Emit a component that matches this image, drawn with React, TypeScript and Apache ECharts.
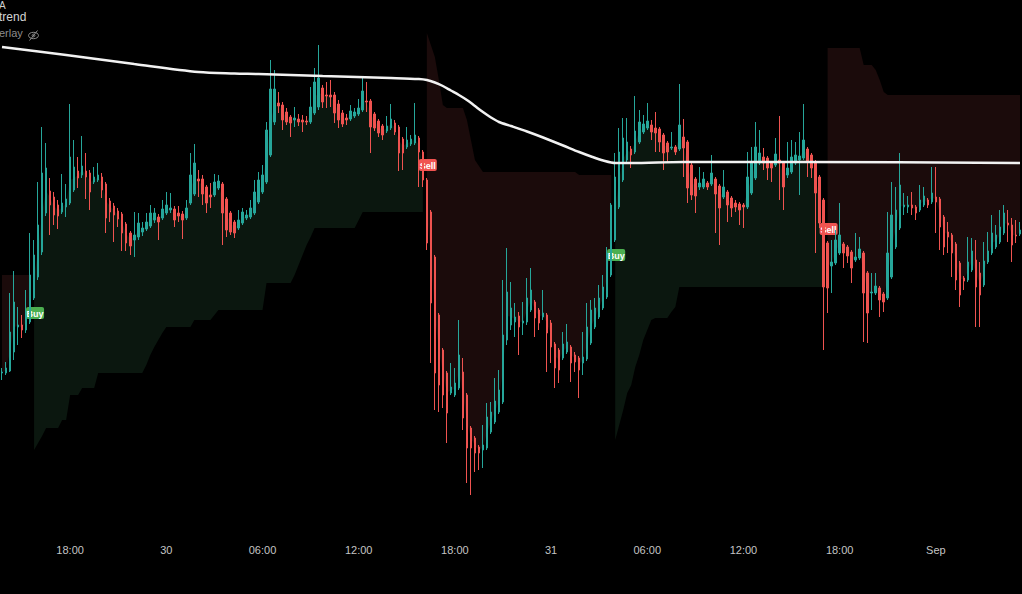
import React, { useEffect, useRef } from "react";
import * as echarts from "echarts";

// ---- time axis (15-minute candles) ----
const startTime = Date.UTC(2023, 7, 29, 13, 45);
const candleCount = 255;
const monthNames = ["Jan", "Feb", "Mar", "Apr", "May", "Jun", "Jul", "Aug", "Sep", "Oct", "Nov", "Dec"];

// ---- candle data (price units) ----
const opens = [
  157,157,159,178,203,205,200,208,232,253,
  278,317,339,333,325,318,323,327,340,359,
  355,359,357,348,350,353,346,329,324,319,
  316,306,297,290,293,298,301,304,310,313,
  312,317,320,321,317,316,312,327,336,351,
  351,343,335,335,342,346,331,317,308,302,
  307,312,313,317,328,338,348,375,408,427,
  425,418,413,410,411,410,409,408,417,423,
  442,435,435,435,426,417,412,411,414,416,
  420,429,429,416,409,404,399,402,407,403,
  391,383,386,387,392,378,350,318,273,215,
  180,157,137,135,142,158,135,102,92,83,
  80,82,98,108,118,128,190,205,208,214,
  207,208,220,228,220,213,215,207,186,180,
  172,178,183,175,172,167,171,187,203,213,
  222,233,255,290,323,350,370,381,378,388,
  398,402,405,402,401,395,387,382,383,381,
  393,388,365,351,343,343,347,346,351,344,
  333,338,332,327,326,325,323,337,352,367,
  373,372,367,365,370,367,355,358,367,370,
  372,381,375,368,353,330,287,264,267,277,
  286,283,278,270,272,277,257,237,237,242,
  236,232,253,283,302,323,323,325,323,320,
  325,330,328,333,331,313,298,295,286,267,
  252,250,260,270,257,245,268,277,283,288,
  297,307,305,295,296,
];
const closes = [
  158,162,198,228,205,200,215,255,275,305,
  357,362,325,315,314,327,331,373,363,352,
  364,353,338,353,355,340,312,318,315,311,
  297,287,284,295,307,302,308,317,317,308,
  321,325,322,310,314,310,322,355,367,349,
  336,327,333,348,349,317,300,298,297,310,
  318,315,322,338,350,355,400,441,441,424,
  410,408,407,412,408,408,408,423,448,452,
  428,434,433,417,410,406,410,419,418,422,
  439,428,403,402,397,395,404,411,398,377,
  377,390,391,395,378,350,287,227,157,145,
  135,117,143,147,175,112,82,82,77,77,
  85,113,118,129,140,195,238,222,213,203,
  209,232,240,212,207,217,197,183,162,160,
  186,188,167,168,160,173,203,220,222,232,
  243,277,325,353,378,392,388,375,399,408,
  406,409,398,397,388,377,378,383,378,405,
  382,342,335,334,347,351,343,357,336,322,
  343,325,322,323,320,323,353,367,383,377,
  367,362,362,376,367,343,362,373,375,374,
  390,368,362,337,307,243,242,268,290,295,
  277,274,262,273,281,237,217,238,244,230,
  228,277,315,320,345,325,325,322,317,330,
  334,325,337,328,303,283,293,277,250,235,
  249,268,279,243,235,269,279,297,295,303,
  317,305,285,294,300,
];
const lows = [
  150,155,158,170,185,192,197,206,230,250,
  275,314,295,305,301,316,313,325,338,342,
  352,331,320,346,348,332,297,308,288,303,
  279,279,275,273,290,294,299,302,307,290,
  310,315,317,303,308,291,310,325,334,333,
  325,317,322,333,340,285,293,295,292,300,
  305,310,311,315,326,336,346,373,405,417,
  400,405,393,403,404,398,405,406,415,420,
  422,422,423,407,402,403,405,409,412,414,
  418,418,377,399,393,390,397,400,395,359,
  360,381,384,385,343,343,280,167,120,118,
  122,87,135,133,140,100,47,35,58,60,
  62,80,96,106,116,126,185,200,193,175,
  195,205,218,193,200,210,158,167,142,147,
  170,176,148,158,132,155,169,185,201,211,
  220,231,253,288,321,348,368,362,376,386,
  396,400,390,378,378,360,368,380,375,379,
  353,327,330,317,340,341,340,344,297,285,
  331,308,313,318,305,302,321,335,350,365,
  360,350,348,363,330,320,352,356,365,335,
  370,353,352,277,302,180,217,237,265,275,
  262,267,247,268,270,188,187,220,235,213,
  218,230,251,281,300,315,317,315,310,318,
  323,322,326,297,280,275,277,253,240,223,
  240,248,258,203,203,243,266,275,281,286,
  295,288,268,287,294,
];
const highs = [
  162,168,237,259,223,215,240,297,290,348,
  403,387,352,338,330,356,346,426,390,373,
  394,377,360,363,367,357,348,332,327,322,
  318,308,299,318,317,308,317,325,322,316,
  330,338,337,324,324,319,330,377,386,360,
  355,345,347,356,355,348,333,319,310,320,
  322,320,330,350,358,365,408,470,460,438,
  428,422,415,423,416,415,414,443,462,485,
  445,448,450,438,430,420,416,425,422,431,
  454,448,431,418,411,406,414,426,410,405,
  393,403,395,427,394,380,352,320,275,217,
  182,159,167,162,210,172,137,104,94,85,
  105,127,128,152,160,250,282,248,227,218,
  228,252,262,230,222,240,217,210,188,182,
  198,206,185,178,174,198,227,230,232,245,
  255,283,327,377,402,412,412,384,434,420,
  415,427,410,418,403,397,389,398,385,446,
  411,390,367,353,363,358,349,375,353,346,
  360,340,334,330,328,327,378,383,408,400,
  382,374,369,392,414,369,388,390,388,398,
  426,383,377,370,355,332,289,290,300,327,
  288,285,280,297,293,279,259,257,257,244,
  238,318,348,343,377,337,334,338,325,345,
  343,332,363,363,333,315,308,297,288,269,
  254,293,292,290,268,288,298,315,305,320,
  325,320,312,310,308,
];

// ---- supertrend line (one value per candle) ----
const trendLine = [
  255,255,255,255,255,255,255,255,80,87,
  94,102,102,102,102,110,110,135,135,135,
  142,142,142,142,157,157,157,157,157,157,
  157,157,157,157,157,157,165,175,183,190,
  197,203,203,203,203,203,203,203,210,210,
  210,210,210,215,220,220,220,220,220,220,
  220,220,220,220,220,220,247,247,247,247,
  247,247,247,255,265,275,285,293,302,302,
  302,302,302,302,302,302,302,302,302,310,
  318,318,318,318,318,318,318,318,318,318,
  318,318,318,318,318,318,497,485,473,450,
  425,422,422,422,422,422,410,390,370,364,
  358,358,358,358,358,358,358,358,358,358,
  358,358,358,358,358,358,358,358,358,358,
  358,358,358,358,355,355,355,355,355,355,
  355,355,355,90,105,120,137,145,163,175,
  190,200,210,212,212,212,212,218,223,243,
  243,243,243,243,243,243,243,243,243,243,
  243,243,243,243,243,243,243,243,243,243,
  243,243,243,243,243,243,243,243,243,243,
  243,243,243,243,243,243,482,482,482,482,
  482,482,482,482,482,465,465,465,460,450,
  438,435,435,435,435,435,435,435,435,435,
  435,435,435,435,435,435,435,435,435,435,
  435,435,435,435,435,435,435,435,435,435,
  435,435,435,435,435,
];
const trendFlips = [8, 106, 153, 206];
const trendStartDir = -1;

// ---- signals ----
const signalIdx = [8, 106, 153, 206];
const signalVal = [217, 365, 275, 301];
const signalText = ["Buy", "Sell", "Buy", "Sell"];

// ---- long moving average ----
const maIdx = [0, 16, 33, 49, 58, 64, 80, 97, 104, 106, 108, 110, 112, 114, 116, 118, 120, 122, 124, 127, 131, 135, 140, 144, 147, 150, 153, 157, 170, 200, 254];
const maVal = [483, 475, 466, 458, 456.5, 456, 454, 452, 451, 450, 447.5, 444, 439.5, 435, 430, 424, 418, 412.5, 408, 404, 398.5, 392.5, 384.5, 378, 373.5, 369.5, 367, 367, 368, 368, 367];

const UP = "#26a69a";
const DOWN = "#ef5350";
const FILL_UP = "#0b170f";
const FILL_DOWN = "#1b0b0b";

function pad(n: number) {
  return n < 10 ? "0" + n : "" + n;
}

export default function App() {
  const ref = useRef<HTMLDivElement>(null);

  useEffect(() => {
    if (!ref.current) return;
    const chart = echarts.init(ref.current, null, { renderer: "svg" });

    const categories: string[] = [];
    for (let i = 0; i < candleCount; i++) {
      const d = new Date(startTime + i * 15 * 60 * 1000);
      categories.push(
        `${d.getUTCFullYear()}-${pad(d.getUTCMonth() + 1)}-${pad(d.getUTCDate())} ${pad(d.getUTCHours())}:${pad(d.getUTCMinutes())}`
      );
    }

    const candles = opens.map((o, i) => [o, closes[i], lows[i], highs[i]]);
    const mids = opens.map((o, i) => (o + closes[i]) / 2);

    // contiguous trend runs: [startIndex, endIndex, direction]
    const runs: number[][] = [];
    let dir = trendStartDir;
    let runStart = 0;
    for (let i = 1; i <= candleCount; i++) {
      if (i === candleCount || trendFlips.indexOf(i) >= 0) {
        runs.push([runStart, i - 1, dir]);
        dir = -dir;
        runStart = i;
      }
    }

    const signalData = signalIdx.map((x, k) => [x, signalVal[k], k]);
    const maData = maIdx.map((x, k) => [x, maVal[k]]);

    chart.setOption({
      animation: false,
      backgroundColor: "#000000",
      grid: { left: 0, right: 0, top: 0, bottom: 64 },
      xAxis: {
        type: "category",
        data: categories,
        boundaryGap: true,
        axisLine: { show: false },
        axisTick: { show: false },
        splitLine: { show: false },
        axisLabel: {
          color: "#c4c4c4",
          fontSize: 11,
          fontFamily: "Liberation Sans",
          margin: 14,
          interval: (_index: number, value: string) => {
            const t = value.slice(11);
            return t === "00:00" || t === "06:00" || t === "12:00" || t === "18:00";
          },
          formatter: (value: string) => {
            const t = value.slice(11);
            if (t === "00:00") {
              const day = +value.slice(8, 10);
              return day === 1 ? monthNames[+value.slice(5, 7) - 1] : String(day);
            }
            return t;
          },
        },
      },
      yAxis: { type: "value", min: 0, max: 530, show: false, splitLine: { show: false } },
      graphic: [
        { type: "text", left: -1, top: 0, style: { text: "A", fill: "#cfcfcf", font: "10px Liberation Sans" } },
        { type: "text", left: -1, top: 11, style: { text: "trend", fill: "#d4d4d4", font: "12px Liberation Sans" } },
        { type: "text", left: -1, top: 27, style: { text: "erlay", fill: "#8c8c8c", font: "11px Liberation Sans" } },
        {
          type: "group",
          left: 26,
          top: 28,
          children: [
            { type: "ellipse", shape: { cx: 5, cy: 5, rx: 5, ry: 3.2 }, style: { fill: "none", stroke: "#8c8c8c", lineWidth: 1 } },
            { type: "circle", shape: { cx: 5, cy: 5, r: 1.4 }, style: { fill: "none", stroke: "#8c8c8c", lineWidth: 1 } },
            { type: "line", shape: { x1: 1, y1: 10, x2: 9, y2: 0 }, style: { stroke: "#8c8c8c", lineWidth: 1 } },
          ],
        },
      ],
      series: [
        {
          type: "custom",
          name: "trendFill",
          z: 1,
          silent: true,
          data: runs,
          encode: { x: [0, 1] },
          renderItem: (_params: any, api: any) => {
            const s = api.value(0);
            const e = api.value(1);
            const pts: number[][] = [];
            for (let i = s; i <= e; i++) pts.push(api.coord([i, trendLine[i]]));
            for (let i = e; i >= s; i--) pts.push(api.coord([i, mids[i]]));
            const col = api.value(2) > 0 ? FILL_UP : FILL_DOWN;
            return {
              type: "polygon",
              shape: { points: pts },
              style: { fill: col },
            };
          },
        },
        {
          type: "custom",
          name: "signals",
          z: 2,
          silent: true,
          data: signalData,
          encode: { x: 0, y: 1 },
          renderItem: (_params: any, api: any) => {
            const p = api.coord([api.value(0), api.value(1)]);
            const k = api.value(2);
            const txt = signalText[k];
            const col = txt === "Buy" ? "#4caf50" : "#f05350";
            return {
              type: "group",
              children: [
                { type: "rect", shape: { x: p[0] - 8, y: p[1] - 6, width: 18, height: 12, r: 2 }, style: { fill: col } },
                {
                  type: "text",
                  style: { text: txt, x: p[0] + 1, y: p[1] + 0.5, align: "center", verticalAlign: "middle", fill: "#ffffff", font: "bold 9px Liberation Sans" },
                },
              ],
            };
          },
        },
        {
          type: "candlestick",
          name: "price",
          z: 3,
          barWidth: 2,
          data: candles,
          itemStyle: { color: UP, color0: DOWN, borderColor: UP, borderColor0: DOWN, borderWidth: 1 },
        },
        {
          type: "line",
          name: "MA",
          z: 4,
          data: maData,
          smooth: 0.3,
          showSymbol: false,
          lineStyle: { color: "#f2f2f2", width: 2.5 },
        },
      ],
    });

    return () => chart.dispose();
  }, []);

  return <div ref={ref} style={{ position: "fixed", left: 0, top: 0, width: 1022, height: 594 }} />;
}
